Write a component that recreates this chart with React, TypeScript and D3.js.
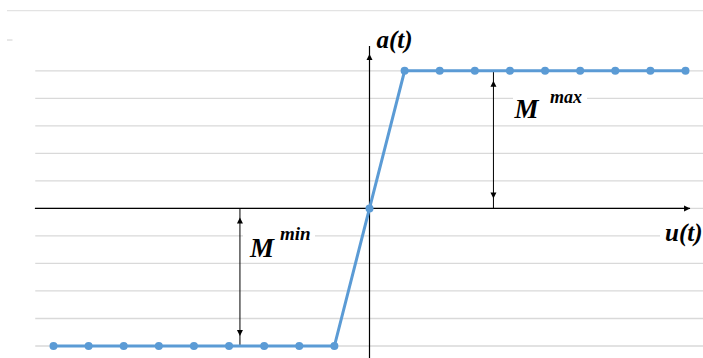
import React from 'react'
import * as d3 from 'd3'

// control signal u(t) and the saturated output a(t)
const uValues = [-9, -8, -7, -6, -5, -4, -3, -2, -1, 0, 1, 2, 3, 4, 5, 6, 7, 8, 9]
const aValues = [-5, -5, -5, -5, -5, -5, -5, -5, -5, 0, 5, 5, 5, 5, 5, 5, 5, 5, 5]
const gridTicks = [-5, -4, -3, -2, -1, 0, 1, 2, 3, 4, 5]

// where the two bracket arrows sit (in data units)
const mMaxAt = 3.53
const mMinAt = -3.69
const uAxisEnds = [-9.53, 9.13]
const aAxisTop = 5.9

const width = 703
const height = 358
const blue = '#5B9BD5'
const serif = '"Liberation Serif", "Times New Roman", serif'

function Head({ x, y, dir }: { x: number; y: number; dir: string }) {
  // small filled triangle, tip at (x, y)
  const s = 3
  const l = 6
  let pts = ''
  if (dir === 'up') pts = `${x},${y} ${x - s},${y + l} ${x + s},${y + l}`
  if (dir === 'down') pts = `${x},${y} ${x - s},${y - l} ${x + s},${y - l}`
  if (dir === 'right') pts = `${x},${y} ${x - l},${y - s} ${x - l},${y + s}`
  return <polygon points={pts} fill="#000" />
}

export default function App() {
  const x = d3.scaleLinear().domain([-9, 9]).range([53.5, 685.5])
  const y = d3.scaleLinear().domain([-5, 5]).range([346, 70.8])

  const pts = uValues.map((u, i) => ({ u, a: aValues[i] }))
  const line = d3.line<{ u: number; a: number }>()
    .x(d => x(d.u))
    .y(d => y(d.a))

  const x0 = x(0)
  const y0 = y(0)

  return (
    <svg width={width} height={height} style={{ position: 'absolute', left: 0, top: 0, background: '#fff' }}>
      {/* outer frame remnants */}
      <line x1={7} x2={width} y1={10.7} y2={10.7} stroke="#e3e3e3" strokeWidth={1.3} />
      <line x1={7} x2={12.5} y1={40} y2={40} stroke="#d0d0d0" strokeWidth={1} />

      {gridTicks.map(t => (
        <line key={t} x1={x(-9.52)} x2={width} y1={y(t)} y2={y(t)} stroke="#d9d9d9" strokeWidth={1.3} />
      ))}

      {/* label backgrounds hide the grid */}
      <rect x={513} y={91} width={74} height={29} fill="#fff" />
      <rect x={243} y={227} width={72} height={33} fill="#fff" />
      <rect x={660} y={217} width={43} height={29} fill="#fff" />

      {/* axes */}
      <line x1={x(uAxisEnds[0])} x2={x(uAxisEnds[1])} y1={y0} y2={y0} stroke="#000" strokeWidth={1.2} />
      <Head x={x(uAxisEnds[1])} y={y0} dir="right" />
      <line x1={x0} x2={x0} y1={y(aAxisTop)} y2={height} stroke="#000" strokeWidth={1.2} />
      <Head x={x0} y={y(aAxisTop) + 8} dir="up" />

      {/* M max bracket */}
      <line x1={x(mMaxAt)} x2={x(mMaxAt)} y1={y(5)} y2={y0} stroke="#000" strokeWidth={1} />
      <Head x={x(mMaxAt)} y={y(5) + 10} dir="up" />
      <Head x={x(mMaxAt)} y={y0 - 10} dir="down" />

      {/* M min bracket */}
      <line x1={x(mMinAt)} x2={x(mMinAt)} y1={y0} y2={y(-5)} stroke="#000" strokeWidth={1} />
      <Head x={x(mMinAt)} y={y0 + 9} dir="up" />
      <Head x={x(mMinAt)} y={y(-5) - 10} dir="down" />

      <path d={line(pts) || ''} fill="none" stroke={blue} strokeWidth={3} />
      {pts.map(d => (
        <circle key={d.u} cx={x(d.u)} cy={y(d.a)} r={4} fill={blue} />
      ))}

      <g fontFamily={serif} fontWeight="bold" fontStyle="italic" fill="#000">
        <text x={x0 + 7} y={47.5} fontSize={25}>a(t)</text>
        <text x={665} y={241} fontSize={25}>u(t)</text>
        <text x={514.5} y={117.5} fontSize={27}>M</text>
        <text x={550} y={103} fontSize={18}>max</text>
        <text x={250} y={256.7} fontSize={27}>M</text>
        <text x={280} y={240} fontSize={19}>min</text>
      </g>
    </svg>
  )
}
